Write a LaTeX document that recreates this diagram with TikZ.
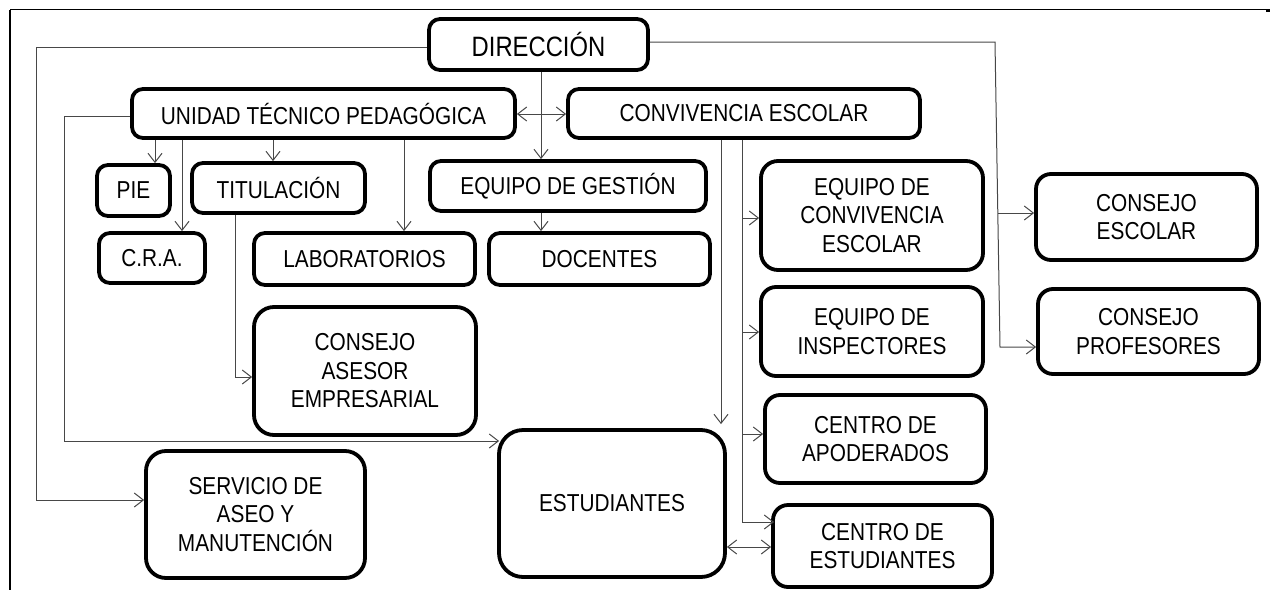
\documentclass[tikz,border=0pt]{standalone}
\usepackage{fontspec}
\setmainfont{Liberation Sans}[FakeStretch=0.85]
\usetikzlibrary{arrows.meta}
\tikzset{
  box/.style={draw=black, line width=3.8pt, rounded corners=11pt, inner sep=0pt,
    align=center, font=\fontsize{24.5}{28.5}\selectfont, text=black},
  conn/.style={draw=black!72, line width=1pt},
  arr/.style={conn, -{Straight Barb[length=9pt,width=14pt,line width=1pt]}},
  darr/.style={conn, {Straight Barb[length=9pt,width=14pt,line width=1pt]}-{Straight Barb[length=9pt,width=14pt,line width=1pt]}},
}
\newcommand\boxnode[7][]{\node[box,#1,minimum width={#5-#3-4},minimum height={#6-#4-4}] (#2) at ({(#3+#5)/2},{(#4+#6)/2}) {#7};}
\begin{document}
\begin{tikzpicture}[x=1pt,y=-1pt]
\useasboundingbox (0,0) rectangle (1270,590);
% frame
\draw[line width=2.5pt] (10,10) -- (10,590);
\draw[line width=1.3pt] (10,9.5) -- (1266,9.5);
\draw[line width=2.5pt] (1266,10.5) -- (1270,10.5);
% boxes
\boxnode{dir}{427}{17}{650}{72}{\fontsize{28}{32}\selectfont DIRECCIÓN}
\boxnode{utp}{130}{87}{517}{140}{UNIDAD TÉCNICO PEDAGÓGICA}
\boxnode{conv}{566}{87}{922}{140}{CONVIVENCIA ESCOLAR}
\boxnode{pie}{95}{163}{172}{218}{PIE}
\boxnode{tit}{190}{161}{367}{215}{TITULACIÓN}
\boxnode{gest}{428}{159}{708}{213}{EQUIPO DE GESTIÓN}
\boxnode{cra}{97}{231}{207}{285}{C.R.A.}
\boxnode{lab}{252}{231}{477}{287}{LABORATORIOS}
\boxnode{doc}{487}{231}{712}{287}{DOCENTES}
\boxnode[rounded corners=17pt]{eqc}{759}{159}{985}{272}{EQUIPO DE\\CONVIVENCIA\\ESCOLAR}
\boxnode[rounded corners=15pt]{cesc}{1034}{172}{1259}{262}{CONSEJO\\ESCOLAR}
\boxnode[rounded corners=20pt]{ase}{252}{305}{478}{437}{CONSEJO\\ASESOR\\EMPRESARIAL}
\boxnode[rounded corners=15pt]{insp}{759}{285}{985}{378}{EQUIPO DE\\INSPECTORES}
\boxnode[rounded corners=15pt]{prof}{1036}{287}{1261}{376}{CONSEJO\\PROFESORES}
\boxnode[rounded corners=15pt]{apod}{763}{393}{988}{485}{CENTRO DE\\APODERADOS}
\boxnode[rounded corners=20pt]{serv}{144}{449}{367}{580}{SERVICIO DE\\ASEO Y\\MANUTENCIÓN}
\boxnode[rounded corners=24pt]{est}{497}{428}{727}{579}{ESTUDIANTES}
\boxnode[rounded corners=15pt]{cest}{771}{503}{994}{589}{CENTRO DE\\ESTUDIANTES}
% helper coordinates
\coordinate (dL) at (36,47);
\coordinate (sL) at (36,500);
\coordinate (uL) at (64,116);
\coordinate (eL) at (64,441);
\coordinate (mx) at (541,114);
\coordinate (xpie) at (155,0);
\coordinate (xcra) at (182,0);
\coordinate (xtit) at (273,0);
\coordinate (xlab) at (404,0);
\coordinate (tA) at (235,377);
\coordinate (rA) at (995,42);
\coordinate (rB) at (1000,347);
\coordinate (rE) at (998,213);
\coordinate (xe) at (721,0);
\coordinate (xc) at (742,0);
\coordinate (cB) at (742,522);
\coordinate (c1) at (742,218);
\coordinate (c2) at (742,332);
\coordinate (c3) at (742,434);
\coordinate (ey) at (0,547);
% connectors
\draw[arr] (dL -| dir.west) -- (dL) -- (sL) -- (sL -| serv.west);
\draw[arr] (uL -| utp.west) -- (uL) -- (eL) -- ([xshift=2pt]eL -| est.west);
\draw[darr] (mx -| utp.east) -- (mx -| conv.west);
\draw[arr] (dir.south -| mx) -- (gest.north -| mx);
\draw[arr] (gest.south -| mx) -- (doc.north -| mx);
\draw[arr] (utp.south -| xpie) -- (pie.north -| xpie);
\draw[arr] (utp.south -| xcra) -- (cra.north -| xcra);
\draw[arr] (utp.south -| xtit) -- (tit.north -| xtit);
\draw[arr] (utp.south -| xlab) -- (lab.north -| xlab);
\draw[arr] (tit.south -| tA) -- (tA) -- (tA -| ase.west);
\draw[arr] (rA -| dir.east) -- (rA) -- (rB) -- (rB -| prof.west);
\draw[arr] (rE) -- (rE -| cesc.west);
\draw[arr] (conv.south -| xe) -- ([yshift=4pt]est.north -| xe);
\draw[arr] (conv.south -| xc) -- (cB) -- ([xshift=3pt]cB -| cest.west);
\draw[arr] (c1) -- (c1 -| eqc.west);
\draw[arr] (c2) -- (c2 -| insp.west);
\draw[arr] (c3) -- (c3 -| apod.west);
\draw[darr] (ey -| est.east) -- (ey -| cest.west);
\end{tikzpicture}
\end{document}
